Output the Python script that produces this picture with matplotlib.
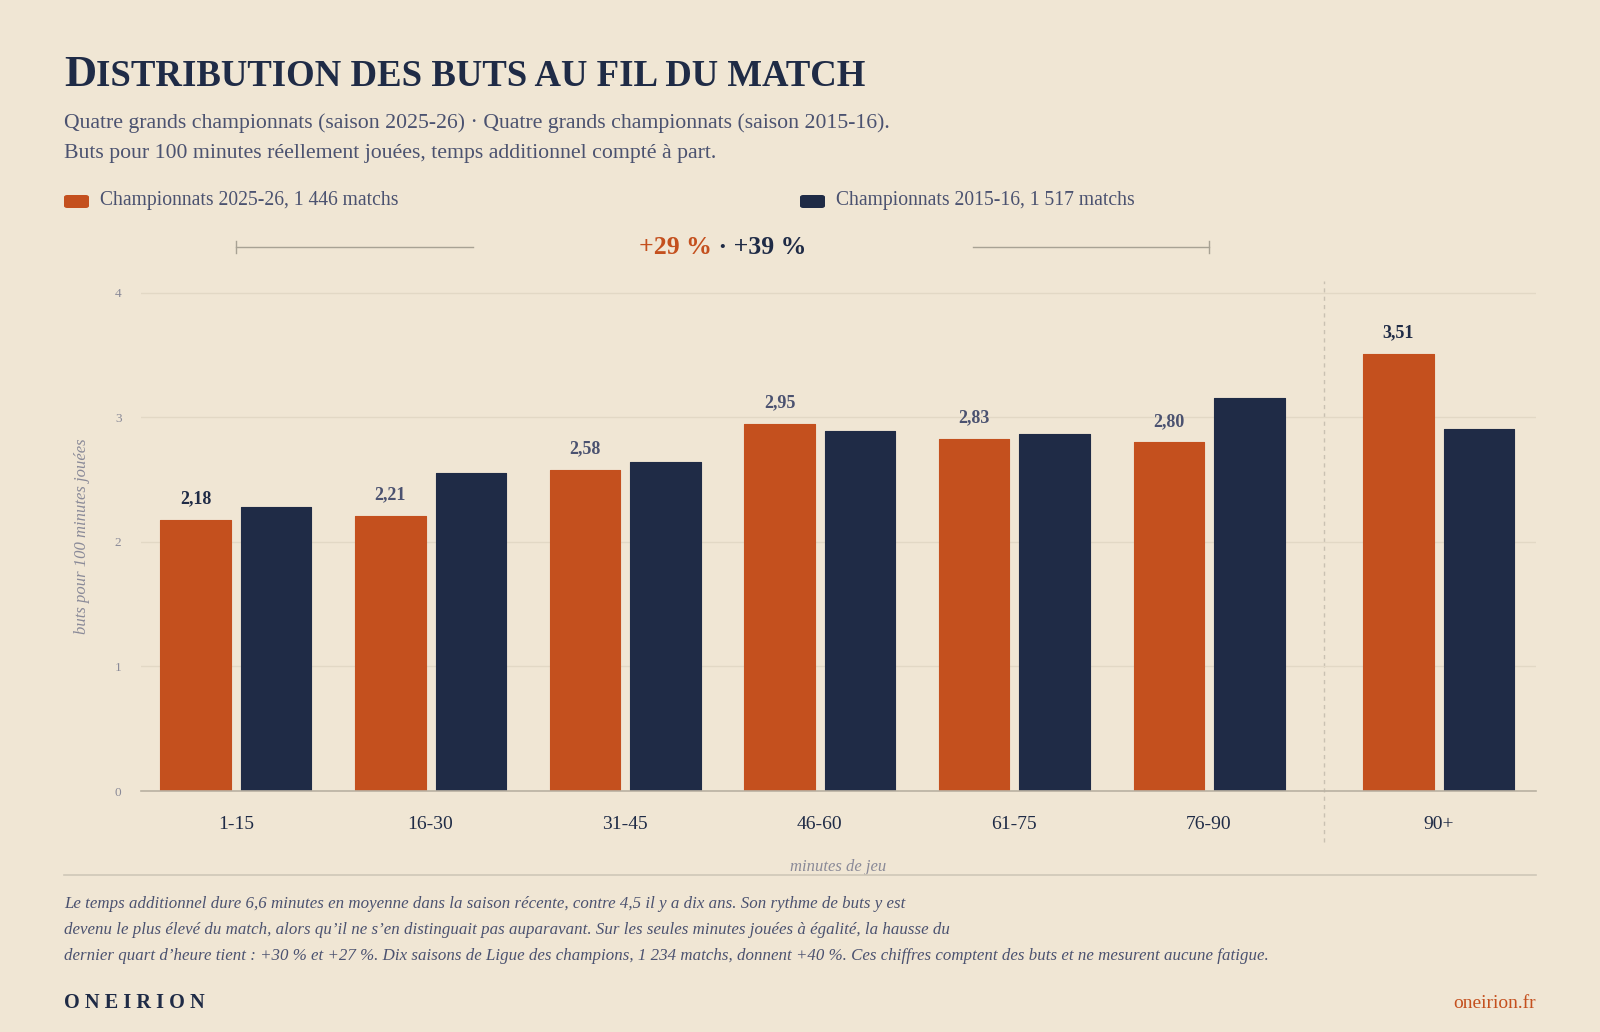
#!/usr/bin/env python3
"""Distribution des buts au fil du match — barres groupées 2025-26 vs 2015-16"""

import matplotlib
matplotlib.use("Agg")
import matplotlib.pyplot as plt
from matplotlib.patches import FancyBboxPatch
from matplotlib.transforms import blended_transform_factory

# ── Données ──
categories = ["1-15", "16-30", "31-45", "46-60", "61-75", "76-90", "90+"]
recent = [2.18, 2.21, 2.58, 2.95, 2.83, 2.80, 3.51]      # 2025-26
past = [2.28, 2.55, 2.64, 2.89, 2.87, 3.16, 2.91]         # 2015-16
highlight = [True, False, False, False, False, False, True]
yticks = [0, 1, 2, 3, 4]
ytick_labels = ["0", "1", "2", "3", "4"]
legend_labels = ["Championnats 2025-26, 1 446 matchs",
                 "Championnats 2015-16, 1 517 matchs"]
hausse = ["+29 %", "+39 %"]   # 1-15 → 76-90, récent / ancien

BG = "#f0e6d4"
ORANGE = "#c4501e"
NAVY = "#1f2b46"
MUTED = "#4b5270"
GREY = "#8a8a98"
GRID = "#e2d8c5"
SERIF = "Liberation Serif"

W, H = 1600, 1032


def fx(px):
    return px / W


def fy(py):
    return 1 - py / H


def main():
    fig = plt.figure(figsize=(W / 100, H / 100), dpi=100)
    fig.patch.set_facecolor(BG)
    plt.rcParams["font.family"] = [SERIF, "DejaVu Serif"]

    # ── Titre (petites capitales simulées) ──
    t1 = fig.text(fx(64), fy(86), "D", fontsize=32, fontweight="bold", color=NAVY)
    fig.canvas.draw()
    bb = t1.get_window_extent()
    fig.text(fx(64) + bb.width / W, fy(86), "ISTRIBUTION DES BUTS AU FIL DU MATCH",
             fontsize=26.5, fontweight="bold", color=NAVY)

    fig.text(fx(64), fy(128),
             "Quatre grands championnats (saison 2025-26) · Quatre grands championnats (saison 2015-16).",
             fontsize=15.7, color=MUTED)
    fig.text(fx(64), fy(158),
             "Buts pour 100 minutes réellement jouées, temps additionnel compté à part.",
             fontsize=15.7, color=MUTED)

    # ── Légende ──
    for x0, col, lab in [(64, ORANGE, legend_labels[0]), (800, NAVY, legend_labels[1])]:
        fig.patches.append(FancyBboxPatch((fx(x0), fy(208)), fx(25), 13 / H,
                                          boxstyle="round,pad=0,rounding_size=0.002",
                                          transform=fig.transFigure, facecolor=col,
                                          edgecolor="none"))
        fig.text(fx(x0 + 36), fy(201), lab, fontsize=14.1, color=MUTED, va="center")

    # ── Graphique ──
    ax = fig.add_axes([fx(141), fy(791), fx(1536) - fx(141), (791 - 281) / H])
    ax.set_facecolor(BG)
    xpos = [0, 1, 2, 3, 4, 5, 6.18]
    bw = 0.362
    off = 0.207
    ax.bar([x - off for x in xpos], recent, bw, color=ORANGE, edgecolor=ORANGE,
           linewidth=0.8, joinstyle="round", zorder=3)
    ax.bar([x + off for x in xpos], past, bw, color=NAVY, edgecolor=NAVY,
           linewidth=0.8, joinstyle="round", zorder=3)

    for x, v, hl in zip(xpos, recent, highlight):
        ax.text(x - off, v + 0.1, f"{v:.2f}".replace(".", ","), ha="center", va="bottom",
                fontsize=13, fontweight="bold", color=NAVY if hl else MUTED, zorder=4)

    ax.set_xlim(-0.488, 6.68)
    ax.set_ylim(0, 4.096)
    ax.set_yticks(yticks)
    ax.set_yticklabels(ytick_labels)
    ax.set_xticks(xpos)
    ax.set_xticklabels(categories)
    ax.tick_params(axis="x", length=0, pad=18, labelsize=14, labelcolor=NAVY)
    ax.tick_params(axis="y", length=0, pad=14, labelsize=9.5, labelcolor=GREY)
    ax.grid(axis="y", color=GRID, linewidth=1, zorder=0)
    for s in ["top", "right", "left"]:
        ax.spines[s].set_visible(False)
    ax.spines["bottom"].set_color("#b9b1a2")
    ax.spines["bottom"].set_linewidth(1.2)
    ax.spines["bottom"].set_zorder(5)

    # séparateur temps additionnel
    ax.plot([5.59, 5.59], [-0.41, 4.1], ls=(0, (3, 3)), color="#c9c1b2",
            linewidth=1, clip_on=False, zorder=1)

    ax.set_ylabel("buts pour 100 minutes jouées", fontsize=12, style="italic",
                  color=GREY, labelpad=18)
    ax.set_xlabel("minutes de jeu", fontsize=12, style="italic", color=GREY, labelpad=19)

    # ── Accolade +29 % · +39 % ──
    tr = blended_transform_factory(ax.transData, fig.transFigure)
    yb = fy(247)
    ax.plot([0, 1.217], [yb, yb], color="#a8a294", lw=1, transform=tr, clip_on=False)
    ax.plot([3.786, 5], [yb, yb], color="#a8a294", lw=1, transform=tr, clip_on=False)
    for xe in [0, 5]:
        ax.plot([xe, xe], [yb - 6 / H, yb + 6 / H], color="#a8a294", lw=1,
                transform=tr, clip_on=False)
    fig.text(fx(712), yb, hausse[0], ha="right", va="center",
             fontsize=18.5, fontweight="bold", color=ORANGE)
    fig.text(fx(712), yb, " · " + hausse[1], ha="left", va="center",
             fontsize=18.5, fontweight="bold", color=NAVY)

    # ── Pied ──
    fig.add_artist(plt.Line2D([fx(64), fx(1536)], [fy(875), fy(875)],
                              color="#cfc7b8", lw=1.2, transform=fig.transFigure))
    notes = [
        "Le temps additionnel dure 6,6 minutes en moyenne dans la saison récente, contre 4,5 il y a dix ans. Son rythme de buts y est",
        "devenu le plus élevé du match, alors qu’il ne s’en distinguait pas auparavant. Sur les seules minutes jouées à égalité, la hausse du",
        "dernier quart d’heure tient : +30 % et +27 %. Dix saisons de Ligue des champions, 1 234 matchs, donnent +40 %. Ces chiffres comptent des buts et ne mesurent aucune fatigue.",
    ]
    for i, line in enumerate(notes):
        fig.text(fx(64), fy(904 + 26 * i), line, fontsize=12.2, style="italic",
                 color=MUTED, va="center")

    fig.text(fx(64), fy(1003), "O N E I R I O N", fontsize=14.6, fontweight="bold",
             color=NAVY, va="center")
    fig.text(fx(1536), fy(1003), "oneirion.fr", fontsize=14, color=ORANGE,
             ha="right", va="center")

    fig.savefig("out.png", dpi=100, facecolor=BG)


if __name__ == "__main__":
    main()
